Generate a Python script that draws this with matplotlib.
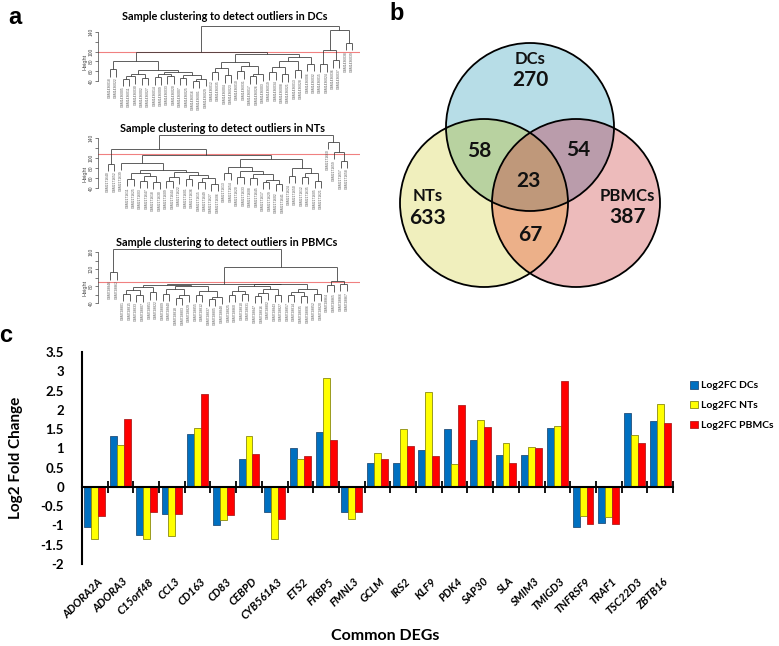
import numpy as np
import matplotlib
matplotlib.use('Agg')
import matplotlib.pyplot as plt
from matplotlib.collections import LineCollection
from matplotlib.patches import Circle, Patch
from matplotlib import transforms

# ---------------- data : panel c ----------------
genes = ['ADORA2A', 'ADORA3', 'C15orf48', 'CCL3', 'CD163', 'CD83', 'CEBPD',
         'CYB561A3', 'ETS2', 'FKBP5', 'FMNL3', 'GCLM', 'IRS2', 'KLF9', 'PDK4',
         'SAP30', 'SLA', 'SMIM3', 'TMIGD3', 'TNFRSF9', 'TRAF1', 'TSC22D3', 'ZBTB16']
log2fc_dcs = [-1.05, 1.31, -1.25, -0.69, 1.36, -1.00, 0.73, -0.66, 1.02, 1.42, -0.66, 0.62,
              0.62, 0.95, 1.49, 1.21, 0.82, 0.82, 1.52, -1.04, -0.93, 1.91, 1.70]
log2fc_nts = [-1.34, 1.10, -1.34, -1.28, 1.54, -0.86, 1.32, -1.34, 0.73, 2.83, -0.82, 0.87,
              1.50, 2.46, 0.60, 1.73, 1.15, 1.04, 1.57, -0.75, -0.78, 1.35, 2.15]
log2fc_pbmcs = [-0.76, 1.77, -0.66, -0.69, 2.40, -0.73, 0.85, -0.84, 0.79, 1.21, -0.65, 0.73,
                1.05, 0.79, 2.12, 1.56, 0.61, 1.02, 2.74, -0.97, -0.97, 1.15, 1.65]
series_labels = ['Log2FC DCs', 'Log2FC NTs', 'Log2FC PBMCs']
series_colors = ['#0070C0', '#FFFF00', '#FF0000']
series_edges = ['#24507A', '#8A8A10', '#B02020']
y_ticks = [-2, -1.5, -1, -0.5, 0, 0.5, 1, 1.5, 2, 2.5, 3, 3.5]
y_ticklabels = ['-2', '-1.5', '-1', '-0.5', '0', '0.5', '1', '1.5', '2', '2.5', '3', '3.5']

# ---------------- data : panel b ----------------
venn_names = ['DCs', 'NTs', 'PBMCs']
venn_unique = [270, 633, 387]
venn_dc_nt = 58
venn_dc_pbmc = 54
venn_nt_pbmc = 67
venn_all = 23

# ---------------- data : panel a (hclust trees: (height, left, right), 0 = sample) ----
dc_tree = (152,
           (100,
            (81, (64, 0, 0),
             (62, (55, (50, (45, 0, 0), 0), (47, 0, 0)),
              (58, (54, (48, 0, 0), (50, 0, 0)), (52, (47, 0, 0), (44, (40, 0, 0), 0))))),
            (96, (79, (66, (58, 0, 0), (52, 0, 0)), (70, (60, 0, 0), (55, (50, 0, 0), 0))),
             (88, (80, (68, (58, 0, 0), (54, 0, 0)), (62, 0, 0)), (75, 0, 0)))),
           (145, (104, (74, 0, 0), (82, 0, 0)), (118, 0, 0)))
nt_tree = (146,
           (118, (89, 0, 0),
            (107,
             (91, 0, (76, (70, (58, 0, 0), (64, (55, 0, 0), (52, 0, 0))),
                      (72, (62, (55, 0, 0), 0), (66, (58, 0, 0), (60, (52, 0, 0), (48, 0, 0)))))),
             (98, (82, (70, 0, 0), (75, (62, 0, 0), (68, (60, 0, 0), (56, (52, 0, 0), (48, 0, 0))))),
              (80, (64, 0, 0), (70, (62, 0, 0), (55, 0, 0)))))),
           (133, 0, (112, 0, (95, 0, 0))))
pbmc_tree = (168,
             (112, 0, 0),
             (124,
              (85,
               (83, (78, (70, (62, 0, 0), (60, 0, 0)), (65, 0, 0)),
                (80, (72, (62, 0, 0), (58, (52, 0, 0), 0)), (68, (60, 0, 0), (55, (50, 0, 0), 0)))),
               (84, (80, (68, (58, 0, 0), (62, 0, 0)), (72, (64, (56, 0, 0), 0), (60, 0, 0))),
                (74, (66, (60, 0, 0), (56, 0, 0)), (62, 0, 0)))),
              (92, (82, 0, 0), (84, 0, 0))))
dc_samples = ("GSM1436018 GSM1436022 GSM1436005 GSM1436011 GSM1436030 GSM1436002 GSM1436027 "
              "GSM1436014 GSM1436009 GSM1436033 GSM1436020 GSM1436007 GSM1436025 GSM1436016 "
              "GSM1436001 GSM1436029 GSM1436012 GSM1436035 GSM1436004 GSM1436023 GSM1436010 "
              "GSM1436031 GSM1436017 GSM1436026 GSM1436003 GSM1436019 GSM1436034 GSM1436008 "
              "GSM1436021 GSM1436013 GSM1436028 GSM1436006 GSM1436032 GSM1436015 GSM1436024 "
              "GSM1436036 GSM1436037 GSM1436038 GSM1436039").split()
nt_samples = ("GSM2171640 GSM2171652 GSM2171611 GSM2171625 GSM2171603 GSM2171647 GSM2171618 "
              "GSM2171630 GSM2171609 GSM2171644 GSM2171622 GSM2171601 GSM2171636 GSM2171615 "
              "GSM2171649 GSM2171627 GSM2171606 GSM2171639 GSM2171613 GSM2171654 GSM2171620 "
              "GSM2171633 GSM2171608 GSM2171645 GSM2171617 GSM2171629 GSM2171602 GSM2171641 "
              "GSM2171624 GSM2171650 GSM2171612 GSM2171635 GSM2171605 GSM2171621 GSM2171657 "
              "GSM2171658 GSM2171659 GSM2171660").split()
pbmc_samples = ("GSM728846 GSM728862 GSM728801 GSM728815 GSM728833 GSM728807 GSM728851 "
                "GSM728822 GSM728809 GSM728840 GSM728818 GSM728803 GSM728829 GSM728855 "
                "GSM728812 GSM728837 GSM728805 GSM728848 GSM728825 GSM728860 GSM728810 "
                "GSM728831 GSM728847 GSM728816 GSM728802 GSM728843 GSM728827 GSM728857 "
                "GSM728814 GSM728835 GSM728806 GSM728852 GSM728820 GSM728864 GSM728865 "
                "GSM728866 GSM728867").split()

# ---------------- figure ----------------
W, H = 779, 646
fig = plt.figure(figsize=(W / 100, H / 100), dpi=100)
FONT = ['Lato', 'DejaVu Sans']
AFONT = ['Liberation Sans', 'DejaVu Sans']


def ax_px(l, t, r, b):
    return fig.add_axes([l / W, 1 - b / H, (r - l) / W, (b - t) / H])


# ================= panel a : dendrograms =================
def dendro(ax, tree, samples, cut, ylim, first_px, last_px, left_px, right_px,
           yticks, yticklabels, bound):
    hang = 0.1 * tree[0]
    segs, leaves = [], []
    count = [0]

    def walk(node):
        if node == 0:
            count[0] += 1
            return count[0], None
        h, l, r = node
        xl, hl = walk(l)
        xr, hr = walk(r)
        for x, ch in ((xl, hl), (xr, hr)):
            if ch is None:
                segs.append([(x, h), (x, h - hang)])
                leaves.append((x, h - hang))
            else:
                segs.append([(x, ch), (x, h)])
        segs.append([(xl, h), (xr, h)])
        return (xl + xr) / 2, h

    walk(tree)
    n = count[0]
    sp = (last_px - first_px) / (n - 1)
    ax.set_xlim(1 - (first_px - left_px) / sp, n + (right_px - last_px) / sp)
    ax.set_ylim(*ylim)
    ax.add_collection(LineCollection(segs, colors='#333333', linewidths=0.55))
    for i, (x, y) in enumerate(leaves):
        lab = samples[i] if i < len(samples) else ''
        ax.text(x, y - 1.5, lab, rotation=90, ha='center', va='top', fontsize=2.4,
                color='#555555', family=AFONT)
    ax.axhline(cut, color='#F08080', lw=0.8, zorder=0)
    for s in ('top', 'right', 'bottom'):
        ax.spines[s].set_visible(False)
    ax.spines['left'].set_bounds(*bound)
    ax.spines['left'].set_linewidth(0.5)
    ax.spines['left'].set_color('#444444')
    ax.set_xticks([])
    ax.set_yticks(yticks)
    ax.set_yticklabels(yticklabels, rotation=90, va='center', fontsize=3.5,
                       family=AFONT, color='#444444')
    ax.tick_params(axis='y', length=2, width=0.5, pad=1, colors='#444444')
    ax.set_ylabel('Height', fontsize=4, family=AFONT, labelpad=1, color='#444444')
    ax.patch.set_alpha(0)


ax_dc = ax_px(98, 22, 360, 102)
dendro(ax_dc, dc_tree, dc_samples, 100, (40 - 21 / 0.49, 40 + 59 / 0.49), 110, 352, 98, 360,
       [40, 60, 80, 100, 120, 140], ['40', '60', '80', '100', '', '140'], (40, 140))
fig.text(225 / W, 1 - 17 / H, 'Sample clustering to detect outliers in DCs', ha='center',
         va='center', fontsize=7.8, fontweight='bold', family=FONT)

ax_nt = ax_px(98, 133, 360, 215)
dendro(ax_nt, nt_tree, nt_samples, 108, (40 - 27 / 0.5, 40 + 55 / 0.5), 108, 347, 98, 360,
       [40, 60, 80, 100, 120, 140], ['40', '60', '80', '100', '', '140'], (40, 140))
fig.text(222 / W, 1 - 128 / H, 'Sample clustering to detect outliers in NTs', ha='center',
         va='center', fontsize=7.8, fontweight='bold', family=FONT)

ax_pb = ax_px(98, 246, 360, 330)
dendro(ax_pb, pbmc_tree, pbmc_samples, 89, (40 - 27 / 0.425, 40 + 57 / 0.425), 110, 347, 98, 360,
       [40, 60, 80, 100, 120, 140, 160], ['40', '', '80', '', '120', '', '160'], (40, 160))
fig.text(227 / W, 1 - 242 / H, 'Sample clustering to detect outliers in PBMCs', ha='center',
         va='center', fontsize=7.8, fontweight='bold', family=FONT)

# ================= panel b : Venn =================
axv = ax_px(390, 0, 779, 330)
axv.set_xlim(390, 779)
axv.set_ylim(330, 0)
axv.axis('off')
R = 84
centers = {'DCs': (530, 127), 'NTs': (484, 203), 'PBMCs': (576, 203)}
region_colors = {
    (1, 0, 0): (183, 221, 232), (0, 1, 0): (240, 239, 190), (0, 0, 1): (238, 187, 187),
    (1, 1, 0): (184, 211, 160), (1, 0, 1): (186, 156, 171), (0, 1, 1): (236, 176, 138),
    (1, 1, 1): (191, 152, 122)}
gx, gy = np.meshgrid(np.arange(390, 779, 0.5) + 0.25, np.arange(0, 330, 0.5) + 0.25)
masks = [(gx - centers[k][0]) ** 2 + (gy - centers[k][1]) ** 2 <= R ** 2 for k in venn_names]
img = np.ones(gx.shape + (3,))
for key, col in region_colors.items():
    m = (masks[0] == bool(key[0])) & (masks[1] == bool(key[1])) & (masks[2] == bool(key[2]))
    img[m] = np.array(col) / 255
axv.imshow(img, extent=(390, 779, 330, 0), interpolation='antialiased', zorder=1)
for k in venn_names:
    axv.add_patch(Circle(centers[k], R, fill=False, ec='black', lw=1.3, zorder=3))
tk = dict(ha='center', va='center', fontweight='bold', family=FONT, color='#111111', zorder=4)
axv.text(530, 59, venn_names[0], fontsize=12, **tk)
axv.text(530, 80, str(venn_unique[0]), fontsize=15, **tk)
axv.text(428, 196, venn_names[1], fontsize=12, **tk)
axv.text(427, 218, str(venn_unique[1]), fontsize=15, **tk)
axv.text(627, 196, venn_names[2], fontsize=12, **tk)
axv.text(628, 217, str(venn_unique[2]), fontsize=15, **tk)
axv.text(479, 151, str(venn_dc_nt), fontsize=15, **tk)
axv.text(578, 150, str(venn_dc_pbmc), fontsize=15, **tk)
axv.text(528, 181, str(venn_all), fontsize=15, **tk)
axv.text(530, 235, str(venn_nt_pbmc), fontsize=15, **tk)

# ================= panel c : bars =================
ax = ax_px(82, 352, 673, 564)
x = np.arange(len(genes)) + 0.5
bw = 0.27
for k, (vals, col, ec) in enumerate(zip([log2fc_dcs, log2fc_nts, log2fc_pbmcs],
                                        series_colors, series_edges)):
    ax.bar(x + (k - 1) * bw, vals, width=bw, color=col, edgecolor=ec, linewidth=0.6,
           label=series_labels[k], zorder=2)
ax.set_xlim(0, len(genes))
ax.set_ylim(-2, 3.5)
ax.spines['top'].set_visible(False)
ax.spines['right'].set_visible(False)
ax.spines['bottom'].set_position(('data', 0))
ax.spines['bottom'].set_linewidth(1.5)
ax.spines['bottom'].set_zorder(3)
ax.spines['left'].set_linewidth(1.5)
ax.set_xticks(np.arange(len(genes) + 1))
ax.tick_params(axis='x', direction='inout', length=8, width=1.3, labelbottom=False)
ax.set_yticks(y_ticks)
ax.set_yticklabels(y_ticklabels, fontsize=9.5, fontweight='bold', family=FONT)
ax.tick_params(axis='y', length=0, pad=13)
ax.set_ylabel('Log2 Fold Change', fontsize=11, fontweight='bold', family=FONT)
ax.yaxis.set_label_coords(-0.1, 0.5)
tr = transforms.offset_copy(ax.transData, fig=fig, x=2, y=-12, units='dots')
for xi, g in zip(x, genes):
    ax.text(xi, -2, g, transform=tr, rotation=45, ha='right', va='top',
            rotation_mode='anchor', fontsize=8, fontweight='bold', fontstyle='italic',
            family=FONT)
fig.text(385 / W, 1 - 636 / H, 'Common DEGs', ha='center', va='center', fontsize=11.5,
         fontweight='bold', family=FONT)
handles = [Patch(facecolor=c, edgecolor=e, linewidth=0.6) for c, e in zip(series_colors, series_edges)]
fig.legend(handles, series_labels, loc='upper left', bbox_to_anchor=(690 / W, 1 - 381 / H),
           frameon=False, handlelength=0.75, handleheight=0.75, handletextpad=0.3,
           labelspacing=1.0, borderaxespad=0, borderpad=0,
           prop=dict(family=FONT, weight='bold', size=7.5))

# panel letters
for lab, px, py in (('a', 15, 17), ('b', 397, 13), ('c', 6, 336)):
    fig.text(px / W, 1 - py / H, lab, ha='center', va='center', fontsize=17,
             fontweight='bold', family=AFONT)

fig.savefig('out.png', dpi=100)
